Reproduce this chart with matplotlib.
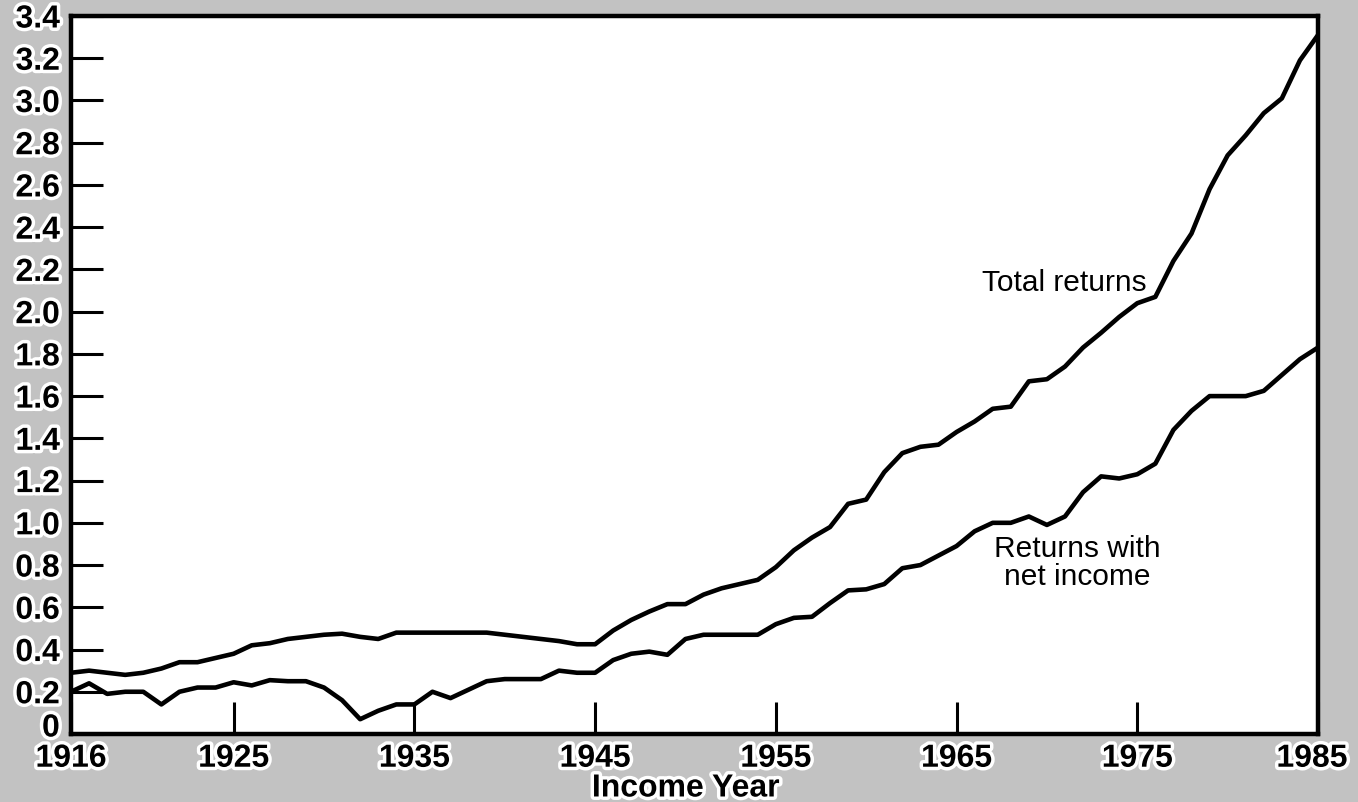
import numpy as np
import matplotlib
matplotlib.use('Agg')
import matplotlib.pyplot as plt
import matplotlib.patheffects as pe
import matplotlib.transforms as mtransforms

plt.rcParams['font.family'] = ['Liberation Sans', 'DejaVu Sans']

years = list(range(1916, 1986))

# Total returns, millions
total_returns = [
    0.29, 0.30, 0.29, 0.28, 0.29, 0.31, 0.34, 0.34, 0.36, 0.38,
    0.42, 0.43, 0.45, 0.46, 0.47, 0.475, 0.46, 0.45, 0.48, 0.48,
    0.48, 0.48, 0.48, 0.48, 0.47, 0.46, 0.45, 0.44, 0.425, 0.425,
    0.49, 0.54, 0.58, 0.615, 0.615, 0.66, 0.69, 0.71, 0.73, 0.79,
    0.87, 0.93, 0.98, 1.09, 1.11, 1.24, 1.33, 1.36, 1.37, 1.43,
    1.48, 1.54, 1.55, 1.67, 1.68, 1.74, 1.83, 1.90, 1.975, 2.04,
    2.07, 2.24, 2.37, 2.58, 2.74, 2.835, 2.94, 3.01, 3.19, 3.31,
]

# Returns with net income
net_income_returns = [
    0.20, 0.24, 0.19, 0.20, 0.20, 0.14, 0.20, 0.22, 0.22, 0.245,
    0.23, 0.255, 0.25, 0.25, 0.22, 0.16, 0.07, 0.11, 0.14, 0.14,
    0.20, 0.17, 0.21, 0.25, 0.26, 0.26, 0.26, 0.30, 0.29, 0.29,
    0.35, 0.38, 0.39, 0.375, 0.45, 0.47, 0.47, 0.47, 0.47, 0.52,
    0.55, 0.555, 0.62, 0.68, 0.685, 0.71, 0.785, 0.80, 0.845, 0.89,
    0.96, 1.0, 1.0, 1.03, 0.99, 1.03, 1.145, 1.22, 1.21, 1.23,
    1.28, 1.44, 1.53, 1.60, 1.60, 1.60, 1.625, 1.70, 1.775, 1.83,
]

x_ticks = [1916, 1925, 1935, 1945, 1955, 1965, 1975, 1985]
y_ticks = np.round(np.arange(0, 3.41, 0.2), 1)
y_labels = ['0'] + [f'{v:.1f}' for v in y_ticks[1:]]

bg = '#c2c2c2'
halo = [pe.withStroke(linewidth=5, foreground='white')]

fig = plt.figure(figsize=(13.58, 8.03), dpi=100, facecolor=bg)
ax = fig.add_axes([71 / 1358, 1 - 735 / 803, 1247 / 1358, 718 / 803])
ax.set_facecolor('white')

ax.plot(years, total_returns, color='black', lw=3.3, solid_joinstyle='round')
ax.plot(years, net_income_returns, color='black', lw=3.3, solid_joinstyle='round')

ax.set_xlim(1916, 1985)
ax.set_ylim(0, 3.4)

for s in ax.spines.values():
    s.set_linewidth(3.2)
    s.set_color('black')

ax.set_xticks(x_ticks)
ax.set_xticklabels([str(y) for y in x_ticks])
ax.set_yticks(y_ticks)
ax.set_yticklabels(y_labels)
ax.tick_params(axis='both', direction='in', length=23, width=2.2, colors='black',
               labelsize=23, pad=8)
ax.tick_params(axis='x', pad=7)
for lab in ax.get_xticklabels() + ax.get_yticklabels():
    lab.set_fontweight('bold')
    lab.set_path_effects(halo)

# small nudges so the corner labels sit as in the original
shift = lambda dx, dy: mtransforms.ScaledTranslation(dx / 100, dy / 100, fig.dpi_scale_trans)
xt = ax.xaxis.get_major_ticks()
xt[-1].label1.set_transform(xt[-1].label1.get_transform() + shift(-6, 0))
yt = ax.yaxis.get_major_ticks()
yt[0].label1.set_transform(yt[0].label1.get_transform() + shift(0, 9))

ax.set_xlabel('Income Year', fontsize=23, fontweight='bold', path_effects=halo)
ax.xaxis.set_label_coords(0.493, -0.055)

ax.text(1975.5, 2.14, 'Total returns', fontsize=21.5, ha='right', va='center')
ax.text(1971.7, 0.815, 'Returns with\nnet income', fontsize=21.5, ha='center',
        va='center', linespacing=1.0)

fig.savefig('out.png', dpi=100, facecolor=bg)
